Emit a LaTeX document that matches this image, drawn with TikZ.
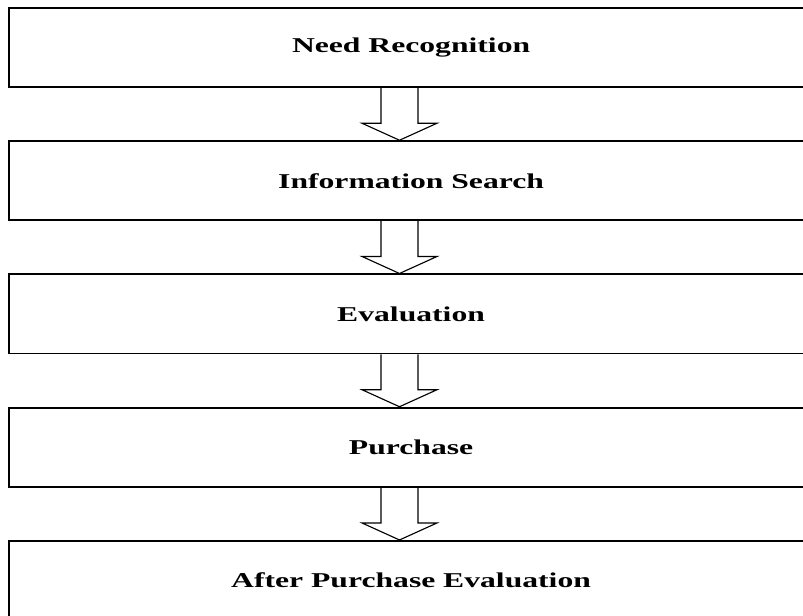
\documentclass[tikz,border=0pt]{standalone}
\usepackage{fontspec}
\setmainfont{Liberation Serif}
\newfontfamily\widefont[FakeStretch=1.5]{Liberation Serif}
\usetikzlibrary{positioning}
\usetikzlibrary{calc}
\tikzset{
  stage/.style = {
    draw,
    line width=1.4pt,
    minimum width=20.1cm,
    minimum height=1.975cm,
    inner sep=0pt,
    font=\widefont\fontsize{15}{18}\selectfont\bfseries
  },
  hollow/.style = {
    draw,
    line width=0.8pt,
    line join=miter
  },
}

\begin{document}
\begin{tikzpicture}[x=0.025cm,y=-0.025cm,node distance=1.306cm]
  \clip (0,0) rectangle (803,616);
  \useasboundingbox (0,0) rectangle (803,616);

  \node [stage,anchor=north west] (need) at (8,7) {Need Recognition};
  \node [stage,below=of need] (search) {Information Search};
  \node [stage,below=of search] (eval) {Evaluation};
  \node [stage,below=of eval] (buy) {Purchase};
  \node [stage,below=of buy] (after) {After Purchase Evaluation};

  % all arrows sit on the same vertical line
  \coordinate (axis) at (399.5,0);

  \foreach \a/\b in {need/search,search/eval,eval/buy,buy/after} {
    \draw [hollow]
      ($ (\a.south -| axis) + (-18.5,0) $) --
      ($ (\b.north -| axis) + (-18.5,-17) $) --
      ($ (\b.north -| axis) + (-37.5,-17) $) --
      (\b.north -| axis) --
      ($ (\b.north -| axis) + (37.5,-17) $) --
      ($ (\b.north -| axis) + (18.5,-17) $) --
      ($ (\a.south -| axis) + (18.5,0) $);
  }
\end{tikzpicture}
\end{document}
